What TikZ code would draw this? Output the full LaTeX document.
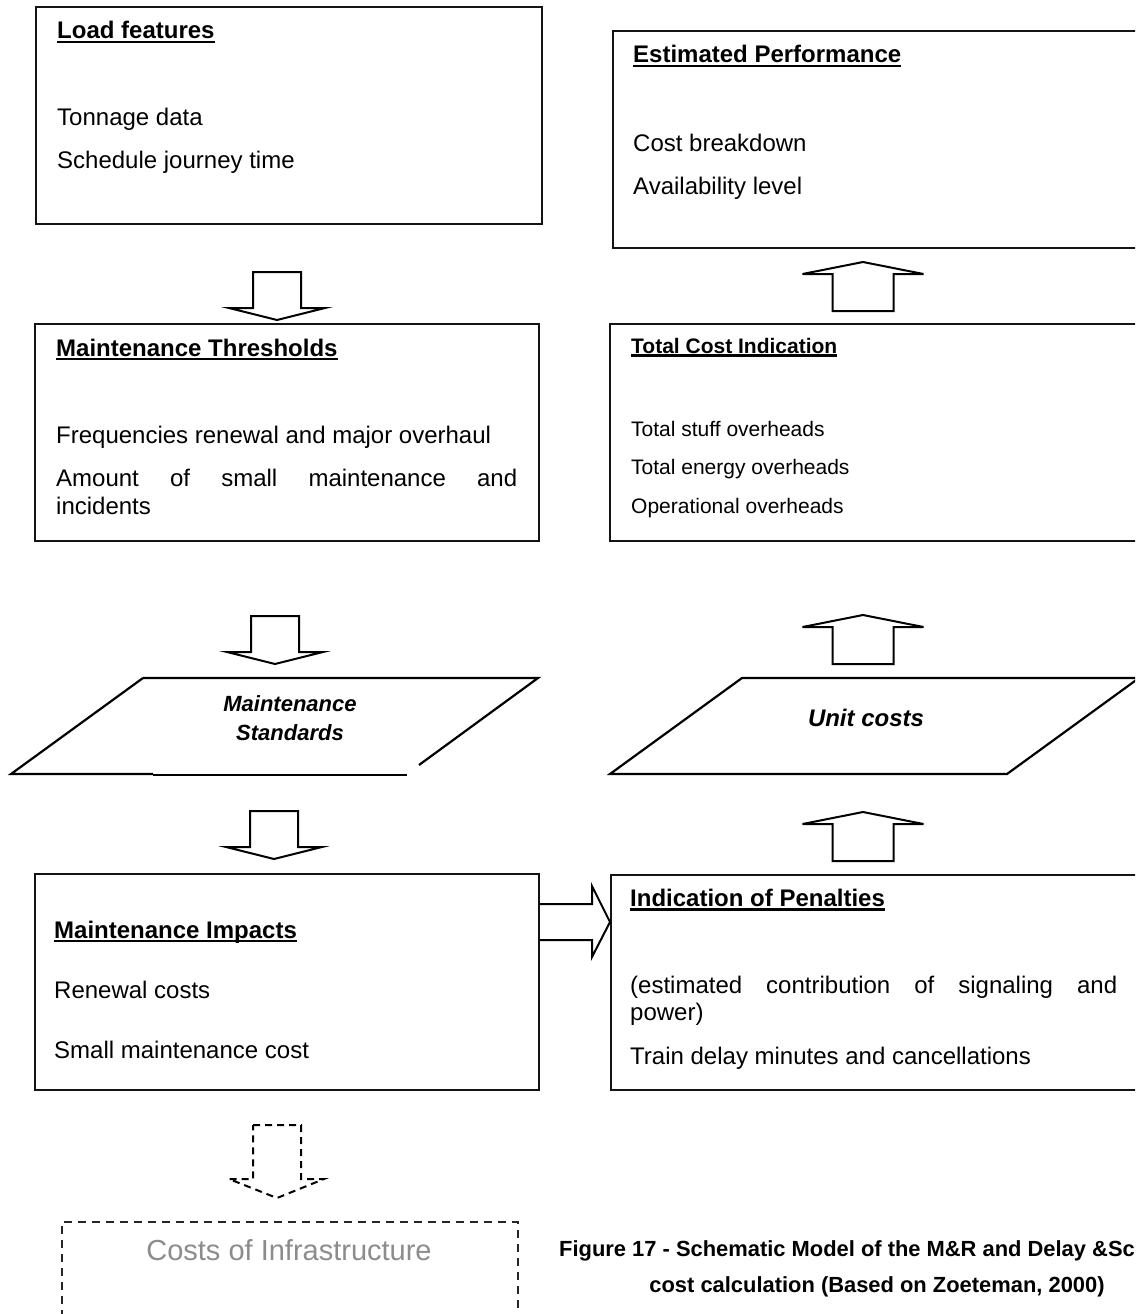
\documentclass[tikz,border=0pt]{standalone}
\usepackage{fontspec}
\setmainfont{Liberation Sans}
% underlined heading: rule drawn just below the baseline
\newcommand\ulined[2][4pt]{\setbox0=\hbox{#2}\rlap{\rule[-#1]{\wd0}{2.4pt}}\box0}
\tikzset{
  panel/.style={draw=black!92, line width=2.2pt, inner sep=0pt, anchor=north west},
  body/.style={inner sep=0pt, anchor=base west, font=\fontsize{24}{28}\selectfont},
  head/.style={body, font=\fontsize{24}{28}\selectfont\bfseries},
  small/.style={inner sep=0pt, anchor=base west, font=\fontsize{21}{25}\selectfont},
  smallhead/.style={small, font=\fontsize{21}{25}\selectfont\bfseries},
  slanted/.style={inner sep=0pt, anchor=base, font=\bfseries\itshape},
  blk/.style={draw=black, line width=2pt, line join=miter},
  pics/dnarrow/.style={code={\draw[blk,pic actions] (-24,0) -- (24,0) -- (24,36) -- (48,36) -- (0,48) -- (-48,36) -- (-24,36) -- cycle;}},
  pics/dnarrowlong/.style={code={\draw[blk,pic actions] (-24,0) -- (24,0) -- (24,54) -- (47,54) -- (0,73) -- (-48,54) -- (-24,54) -- cycle;}},
  pics/uparrow/.style={code={\draw[blk,pic actions] (-30.5,0) -- (30.5,0) -- (30.5,-37) -- (60.5,-37) -- (0,-49) -- (-60.5,-37) -- (-30.5,-37) -- cycle;}},
}
\begin{document}
\begin{tikzpicture}[x=1pt,y=-1pt]
\useasboundingbox (0,0) rectangle (1135,1314);
\clip (0,0) rectangle (1135,1314);

% ---------- left column ----------
\node[panel, minimum width=506pt, minimum height=217pt] (lf) at (35,6) {};
\node[head] (lft) at (57,39) {\ulined{Load features}};
\node[body] (lf1) at (57,125) {Tonnage data};
\node[body] (lf2) at (57,168) {Schedule journey time};

\pic (d1) at (277,272) {dnarrow};

\node[panel, minimum width=504pt, minimum height=217pt] (mt) at (34,323) {};
\node[head] (mtt) at (56,356) {\ulined{Maintenance Thresholds}};
\node[body] (mt1) at (56,443) {Frequencies renewal and major overhaul};
\node[body] (mt2) at (56,486) {\makebox[461pt][s]{Amount\hfill of\hfill small\hfill maintenance\hfill and}};
\node[body] (mt3) at (56,514) {incidents};

\pic (d2) at (275,616) {dnarrow};

% maintenance standards (input parallelogram)
\draw[line width=2.2pt] (143,678) -- (538,678) -- (419,765);
\draw[line width=2.2pt] (153,774) -- (11,774) -- (143,678);
\draw[line width=1.6pt] (153,775) -- (407,775);
\node[slanted, font=\fontsize{22}{26}\selectfont\bfseries\itshape] (ms1) at (290,711) {Maintenance};
\node[slanted, font=\fontsize{22}{26}\selectfont\bfseries\itshape] (ms2) at (290,740) {Standards};

\pic (d3) at (274,811) {dnarrow};

\node[panel, minimum width=504pt, minimum height=216pt] (mi) at (34,873) {};
\node[head] (mit) at (54,938) {\ulined{Maintenance Impacts}};
\node[body] (mi1) at (54,998) {Renewal costs};
\node[body] (mi2) at (54,1058) {Small maintenance cost};

\pic[dash pattern=on 7pt off 5pt, line width=1.6pt] (d4) at (277,1125) {dnarrowlong};

\node[panel, draw=black!85, line width=1.6pt, dash pattern=on 8pt off 6pt,
      minimum width=456pt, minimum height=120pt] (ci) at (61,1221) {};
\node[inner sep=0pt, anchor=base, text=black!45, font=\fontsize{29}{34}\selectfont] (cit) at (289,1260) {Costs of Infrastructure};

% ---------- right column ----------
\node[panel, minimum width=540pt, minimum height=217pt] (ep) at (612,30) {};
\node[head] (ept) at (633,63) {\ulined{Estimated Performance}};
\node[body] (ep1) at (633,151) {Cost breakdown};
\node[body] (ep2) at (633,194) {Availability level};

\pic (u1) at (863,311) {uparrow};

\node[panel, minimum width=540pt, minimum height=217pt] (tc) at (609,323) {};
\node[smallhead] (tct) at (631,353) {\ulined[3.6pt]{Total Cost Indication}};
\node[small] (tc1) at (631,436) {Total stuff overheads};
\node[small] (tc2) at (631,474.5) {Total energy overheads};
\node[small] (tc3) at (631,513) {Operational overheads};

\pic (u2) at (863,664) {uparrow};

% unit costs (input parallelogram)
\draw[line width=2.2pt] (742,678) -- (1139,678) -- (1007,774) -- (610,774) -- cycle;
\node[slanted, font=\fontsize{24}{28}\selectfont\bfseries\itshape] (uc) at (866,726) {Unit costs};

\pic (u3) at (863,861) {uparrow};

\node[panel, minimum width=540pt, minimum height=215pt] (ip) at (610,874) {};
\node[head] (ipt) at (630,906.5) {\ulined{Indication of Penalties}};
\node[body] (ip1) at (630,993) {\makebox[487pt][s]{(estimated\hfill contribution\hfill of\hfill signaling\hfill and}};
\node[body] (ip2) at (630,1020) {power)};
\node[body] (ip3) at (630,1064) {Train delay minutes and cancellations};

% block arrow from the impacts to the penalties
\draw[blk] (mi.east |- 0,904) -- (592,904) -- (592,886) -- (ip.west |- 0,922)
  -- (592,957) -- (592,940) -- (mi.east |- 0,940);

% ---------- caption ----------
\node[inner sep=0pt, anchor=base west, font=\fontsize{21.9}{26}\selectfont\bfseries] (cap1) at (559,1256.5)
  {Figure 17 - Schematic Model of the M\&R and Delay \&Sc};
\node[inner sep=0pt, anchor=base, font=\fontsize{21.9}{26}\selectfont\bfseries] (cap2) at (877,1292)
  {cost calculation (Based on Zoeteman, 2000)};
\end{tikzpicture}
\end{document}
